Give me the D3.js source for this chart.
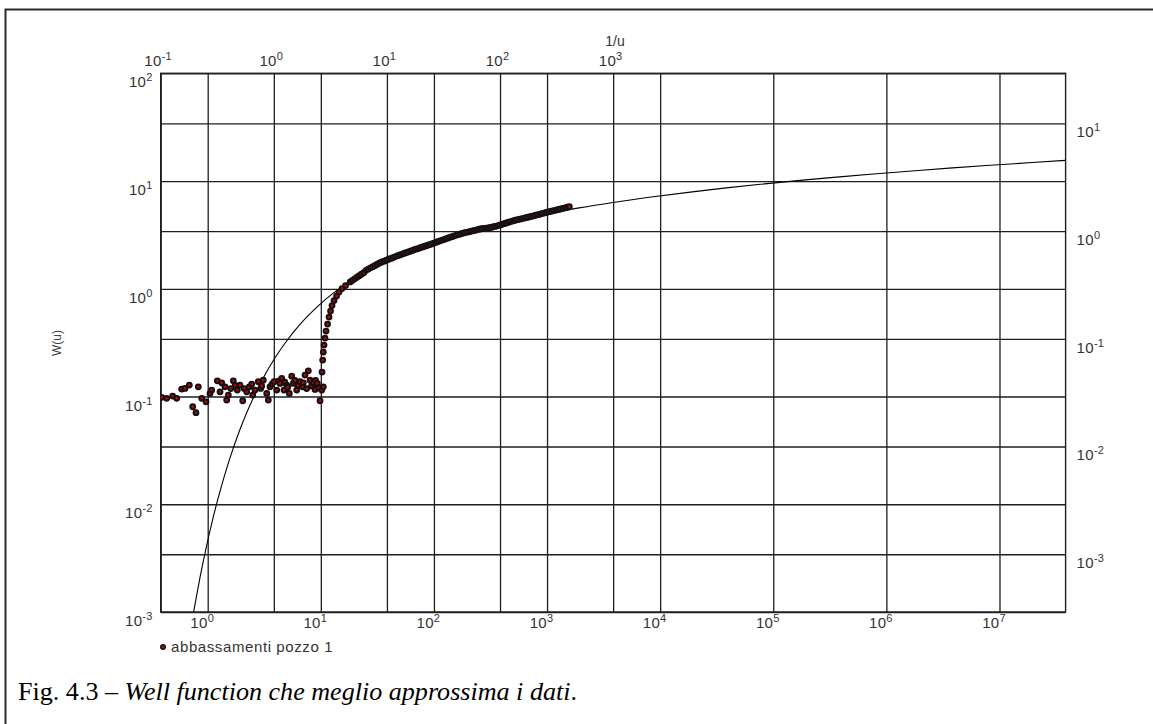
<!DOCTYPE html>
<html>
<head>
<meta charset="utf-8">
<script src="https://cdn.jsdelivr.net/npm/d3@7"></script>
<style>
  html, body { margin: 0; padding: 0; background: #fff; }
  svg { display: block; }
</style>
</head>
<body>
<svg id="chart" width="1153" height="724"></svg>
<script>
// Theis well function: W(u) against 1/u (type curve)
const curveInvU = [0.1667, 0.2, 0.2222, 0.25, 0.2857, 0.3333, 0.4, 0.5, 0.6667, 0.8333, 1, 1.25, 1.667, 2, 2.5,
  3.333, 5, 6.667, 10, 14.29, 20, 33.33, 50, 100, 200, 500, 1000, 2000, 5000, 1e4, 2e4, 5e4,
  1e5, 2e5, 5e5, 1e6, 2e6, 5e6, 1e7];
const curveW = [0.000360, 0.001148, 0.002073, 0.003779, 0.006970, 0.01305, 0.02491, 0.04890, 0.1000, 0.1584,
  0.2194, 0.3106, 0.4544, 0.5598, 0.7024, 0.9057, 1.2227, 1.4645, 1.8229, 2.1508, 2.4679, 2.9591,
  3.3547, 4.0379, 4.7261, 5.6394, 6.3315, 7.0242, 7.9402, 8.6332, 9.3263, 10.2426, 10.9357, 11.6289,
  12.5451, 13.2383, 13.9314, 14.8477, 15.5409];

// drawdown observations, well 1: elapsed time and drawdown
const obsTime = [
  // early readings (noise around the static level)
  0.392, 0.434, 0.490, 0.532, 0.589, 0.630, 0.688, 0.737, 0.788, 0.826, 0.885, 0.966, 1.048, 1.085,
  1.216, 1.330, 1.285, 1.422, 1.521, 1.472, 1.60, 1.684, 1.75, 1.827, 1.930, 2.040, 2.10, 2.212, 2.332,
  2.449, 2.50, 2.619, 2.802, 2.942, 3.00, 3.101, 3.325, 3.435, 3.555, 3.70, 3.857, 4.075, 4.20, 4.357,
  4.511, 4.727, 4.80, 4.994, 5.10, 5.266, 5.530, 5.713, 5.90, 6.123, 6.30, 6.549, 6.918, 7.00, 7.250,
  7.50, 7.754, 8.027, 8.30, 8.585, 8.887, 9.00, 9.312, 9.60, 9.838, 10.18, 10.52,
  // pumping start
  10.25, 10.39, 10.52, 10.67, 10.89, 11.12, 11.47, 11.82, 12.19, 12.56, 13.09, 13.77, 14.49, 15.40, 16.54,
  // pumping phase
  18.20, 19.05, 19.95, 20.89, 21.88, 22.91, 23.99, 25.12, 26.30, 27.54, 28.84, 30.20, 31.62, 33.11, 34.67,
  36.31, 38.02, 39.81, 41.69, 43.65, 45.71, 47.86, 50.12, 52.48, 54.95, 57.54, 60.26, 63.10, 66.07, 69.18,
  72.44, 75.86, 79.43, 83.18, 87.10, 91.20, 95.50, 100.0, 104.7, 109.6, 114.8, 120.2, 125.9, 131.8, 138.0,
  144.5, 151.4, 158.5, 166.0, 173.8, 182.0, 190.5, 199.5, 208.9, 218.8, 229.1, 239.9, 251.2, 263.0, 275.4,
  288.4, 302.0, 316.2, 331.1, 346.7, 363.1, 380.2, 398.1, 416.9, 436.5, 457.1, 478.6, 501.2, 524.8, 549.5,
  575.4, 602.6, 631.0, 660.7, 691.8, 724.4, 758.6, 794.3, 831.8, 871.0, 912.0, 955.0, 1000, 1047, 1096,
  1148, 1202, 1259, 1318, 1380, 1445, 1514, 1574
];
const obsDrawdown = [
  0.0286, 0.0280, 0.0294, 0.0280, 0.0341, 0.0346, 0.0372, 0.0234, 0.0206, 0.0358, 0.0280, 0.0260, 0.0311, 0.0334,
  0.0407, 0.0390, 0.0322, 0.0358, 0.0300, 0.0270, 0.0345, 0.0407, 0.0370, 0.0334, 0.0372, 0.0266, 0.0345, 0.0322, 0.0358,
  0.0380, 0.0300, 0.0334, 0.0399, 0.0346, 0.0365, 0.0413, 0.0311, 0.0270, 0.0358, 0.0380, 0.0399, 0.0334, 0.0405, 0.0385,
  0.0429, 0.0334, 0.0395, 0.0372, 0.0355, 0.0311, 0.0450, 0.0385, 0.0410, 0.0334, 0.0370, 0.0399, 0.0358, 0.0390, 0.0460,
  0.0345, 0.0504, 0.0413, 0.0365, 0.0390, 0.0339, 0.0410, 0.0385, 0.0350, 0.0266, 0.0334, 0.0358,
  0.0491, 0.0634, 0.0752, 0.0874, 0.1015, 0.1179, 0.1370, 0.1591, 0.1808, 0.2033, 0.2263, 0.2491, 0.2714, 0.2924, 0.3119,
  0.337, 0.349, 0.360, 0.373, 0.385, 0.398, 0.411, 0.432, 0.444, 0.456, 0.467, 0.479, 0.492, 0.505, 0.516,
  0.525, 0.536, 0.547, 0.557, 0.568, 0.579, 0.590, 0.600, 0.611, 0.622, 0.632, 0.643, 0.655, 0.667, 0.678,
  0.688, 0.700, 0.712, 0.723, 0.734, 0.747, 0.760, 0.773, 0.787, 0.800, 0.815, 0.829, 0.843, 0.858, 0.872,
  0.887, 0.902, 0.917, 0.930, 0.944, 0.957, 0.970, 0.977, 0.990, 1.002, 1.014, 1.027, 1.040, 1.050, 1.057,
  1.064, 1.070, 1.078, 1.090, 1.103, 1.117, 1.134, 1.152, 1.170, 1.188, 1.206, 1.225, 1.244, 1.259, 1.274,
  1.289, 1.304, 1.319, 1.335, 1.350, 1.367, 1.384, 1.402, 1.420, 1.438, 1.457, 1.475, 1.494, 1.511, 1.529,
  1.547, 1.565, 1.584, 1.602, 1.621, 1.641, 1.663, 1.681
];

// axis ranges and tick values
const topDomain = [0.1, 1e7];            // 1/u
const bottomDomain = [0.3841, 3.841e7];  // time
const leftDomain = [1e-3, 1e2];          // W(u)
const rightDomain = [2.911e-4, 29.11];   // drawdown
const topTicks = [0.1, 1, 10, 100, 1000];
const bottomTicks = [1, 10, 100, 1000, 1e4, 1e5, 1e6, 1e7];
const leftTicks = [1e-3, 1e-2, 1e-1, 1, 10, 100];
const rightTicks = [1e-3, 1e-2, 1e-1, 1, 10];

const svg = d3.select("#chart");
const P = { left: 160.7, right: 1065.6, top: 73.3, bottom: 612 };
const W = P.right - P.left, H = P.bottom - P.top;

const xTop = d3.scaleLog().domain(topDomain).range([P.left, P.right]);
const xBot = d3.scaleLog().domain(bottomDomain).range([P.left, P.right]);
const yLeft = d3.scaleLog().domain(leftDomain).range([P.bottom, P.top]);
const yRight = d3.scaleLog().domain(rightDomain).range([P.bottom, P.top]);

const FONT = "'Liberation Sans', Arial, Helvetica, sans-serif";
const gridColor = "#1e1e1e";
const textColor = "#333";

// outer frame
svg.append("path")
  .attr("d", "M5.5,724 V9.5 H1153")
  .attr("fill", "none").attr("stroke", "#2a2a2a").attr("stroke-width", 2);

// power-of-ten labels with superscript exponent
function powLabels(g, opt) {
  g.select(".domain").remove();
  g.selectAll(".tick line").attr("stroke", gridColor).attr("stroke-width", 1.3);
  g.selectAll(".tick text").each(function (d) {
    const t = d3.select(this);
    const e = Math.round(Math.log10(d));
    t.text(null)
      .attr("x", opt.x).attr("y", opt.y).attr("dy", 0)
      .attr("text-anchor", opt.anchor)
      .attr("fill", textColor)
      .style("font-family", FONT).style("font-size", "15px")
      .style("letter-spacing", "0.3px");
    t.append("tspan").text("10");
    t.append("tspan").attr("dy", -6).style("font-size", "11px").text(String(e));
  });
}

svg.append("g").attr("transform", `translate(0,${P.top})`)
  .call(d3.axisTop(xTop).tickValues(topTicks).tickSize(-H))
  .call(g => powLabels(g, { x: -3, y: -7.3, anchor: "middle" }));

svg.append("g").attr("transform", `translate(0,${P.bottom})`)
  .call(d3.axisBottom(xBot).tickValues(bottomTicks).tickSize(-H))
  .call(g => powLabels(g, { x: -6, y: 15.5, anchor: "middle" }));

svg.append("g").attr("transform", `translate(${P.left},0)`)
  .call(d3.axisLeft(yLeft).tickValues(leftTicks).tickSize(-W))
  .call(g => powLabels(g, { x: -8, y: 13.5, anchor: "end" }));

svg.append("g").attr("transform", `translate(${P.right},0)`)
  .call(d3.axisRight(yRight).tickValues(rightTicks).tickSize(-W))
  .call(g => powLabels(g, { x: 11, y: 13.4, anchor: "start" }));

// plot border
svg.append("rect")
  .attr("x", P.left).attr("y", P.top).attr("width", W).attr("height", H)
  .attr("fill", "none").attr("stroke", gridColor).attr("stroke-width", 1.4);

// clip to the plotting area
svg.append("clipPath").attr("id", "plotClip")
  .append("rect").attr("x", P.left).attr("y", P.top).attr("width", W).attr("height", H);

// type curve
const curvePts = curveInvU.map((v, i) => [v, curveW[i]]);
svg.append("path")
  .datum(curvePts)
  .attr("clip-path", "url(#plotClip)")
  .attr("fill", "none").attr("stroke", "#000").attr("stroke-width", 1.1)
  .attr("d", d3.line().x(d => xTop(d[0])).y(d => yLeft(d[1])).curve(d3.curveMonotoneX));

// observed drawdowns
const obs = obsTime.map((t, i) => [t, obsDrawdown[i]]);
svg.append("g").attr("clip-path", "url(#plotClip)")
  .selectAll("circle").data(obs).join("circle")
  .attr("cx", d => xBot(d[0])).attr("cy", d => yRight(d[1]))
  .attr("r", 2.4)
  .attr("fill", "#c40000").attr("stroke", "#111").attr("stroke-width", 2);

// axis titles
svg.append("text")
  .attr("x", 615).attr("y", 46).attr("text-anchor", "middle")
  .attr("fill", textColor).style("font-family", FONT).style("font-size", "14px")
  .text("1/u");

svg.append("text")
  .attr("transform", "translate(61,343) rotate(-90)")
  .attr("text-anchor", "middle")
  .attr("fill", "#444").style("font-family", FONT).style("font-size", "12px")
  .text("W(u)");

// legend
const legend = svg.append("g").attr("transform", "translate(163,647)");
legend.append("circle").attr("r", 2.2)
  .attr("fill", "#c40000").attr("stroke", "#111").attr("stroke-width", 1.6);
legend.append("text").attr("x", 8).attr("y", 5)
  .attr("fill", textColor).style("font-family", FONT).style("font-size", "15px")
  .style("letter-spacing", "0.6px")
  .text("abbassamenti pozzo 1");

// figure caption
const cap = svg.append("text")
  .attr("x", 18).attr("y", 700)
  .attr("fill", "#000")
  .attr("textLength", 559).attr("lengthAdjust", "spacingAndGlyphs")
  .style("font-family", "'Liberation Serif', 'Times New Roman', serif")
  .style("font-size", "26px");
cap.append("tspan").text("Fig. 4.3 – ");
cap.append("tspan").style("font-style", "italic").text("Well function che meglio approssima i dati");
cap.append("tspan").text(".");
</script>
</body>
</html>
